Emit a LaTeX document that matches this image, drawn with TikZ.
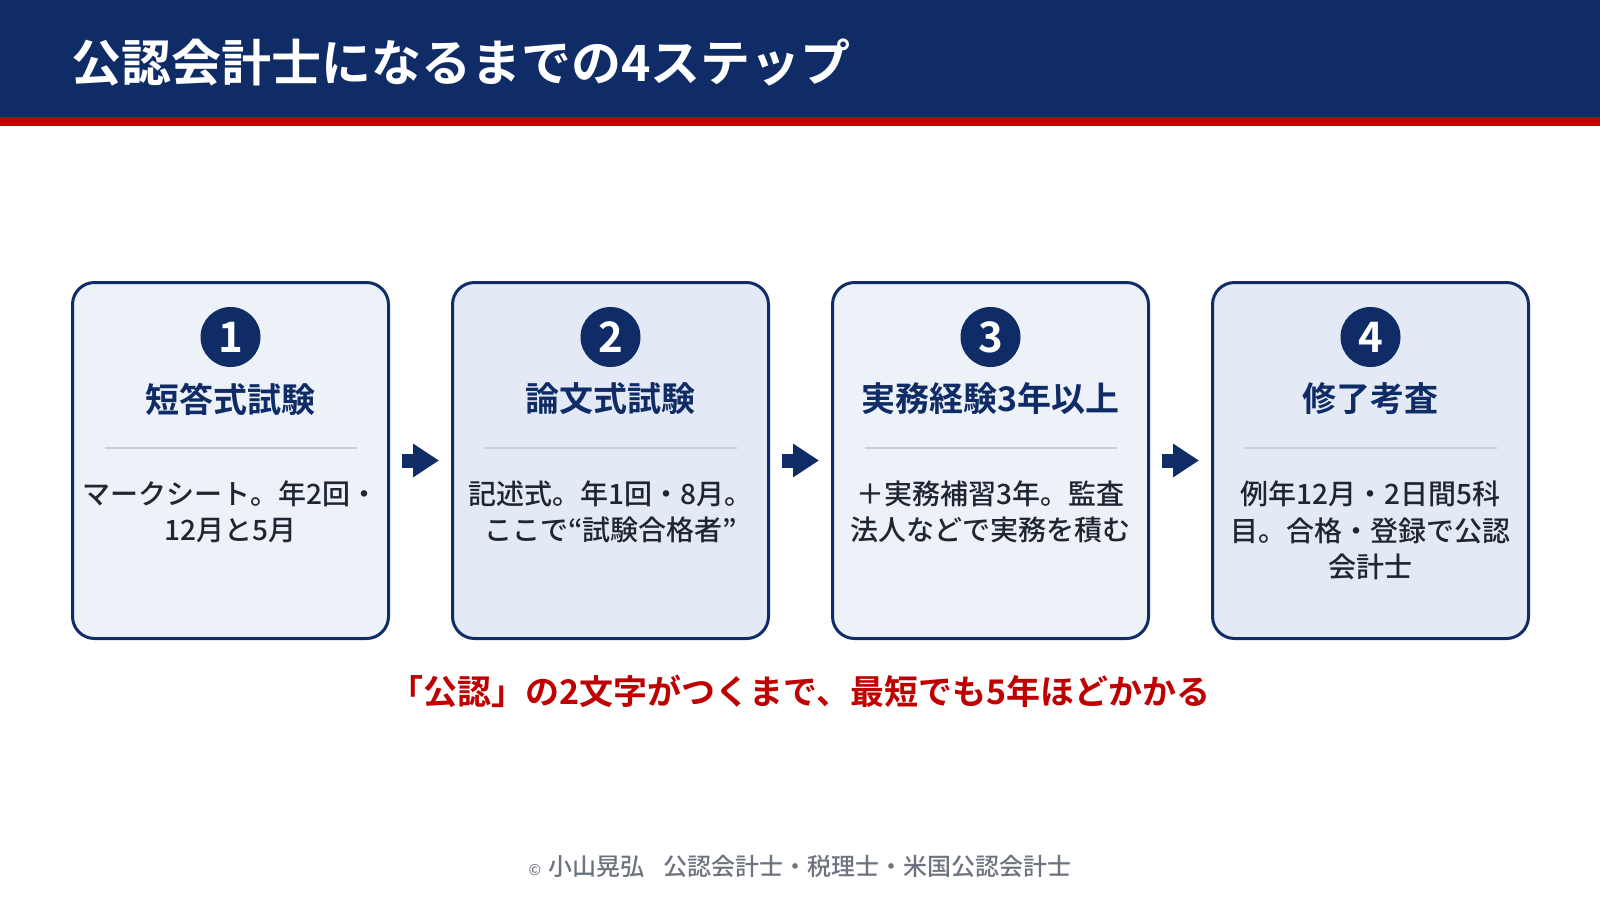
\documentclass[tikz,border=0pt]{standalone}
\usepackage{fontspec}
\setmainfont{Noto Sans CJK JP}[BoldFont={* Bold}]
\newfontfamily\jpmed{Noto Sans CJK JP Medium}
\usetikzlibrary{arrows.meta}
\definecolor{navy}{HTML}{0F2C66}
\definecolor{redline}{HTML}{C00000}
\definecolor{cardA}{HTML}{EDF1F8}
\definecolor{cardB}{HTML}{E3EAF5}
\definecolor{divgray}{HTML}{C9CED6}
\definecolor{bodyc}{HTML}{1F2533}
\definecolor{footc}{HTML}{6E7380}
\tikzset{
  card/.style={draw=navy, line width=3pt, rounded corners=22pt, minimum width=316pt, minimum height=356pt, outer sep=0pt, inner sep=0pt},
  numdisc/.style={circle, fill=navy, minimum size=60pt, inner sep=0pt, text=white, font=\bfseries\fontsize{42}{42}\selectfont},
  headtext/.style={inner sep=0pt, text=navy, font=\bfseries\fontsize{34}{40}\selectfont},
  bodytext/.style={inner sep=0pt, align=center, text=bodyc, font=\jpmed\fontsize{28}{36.6}\selectfont},
  divider/.style={draw=divgray, line width=1.8pt},
  steparrow/.style={draw=navy, line width=14pt, -{Triangle[length=26pt,width=32pt]}, shorten <=13.5pt, shorten >=13.5pt},
  titletext/.style={inner sep=0pt, text=white, font=\bfseries\fontsize{50}{60}\selectfont},
  notetext/.style={inner sep=0pt, text=redline, font=\bfseries\fontsize{34}{40}\selectfont},
  foottext/.style={inner sep=0pt, text=footc, font=\jpmed\fontsize{24}{28}\selectfont}
}
\newcommand\stepcard[7]{%
  \node[card, fill=#3] (b#1) at (#2,460.5) {};
  \node[numdisc] (n#1) at (#2,337) {#4};
  \node[headtext] (h#1) at (#2,399) {#5};
  \draw[divider] (#2-126,448) -- (#2+126,448);
  \node[bodytext] (t#1) at (#2,#7) {#6};
}
\begin{document}
\begin{tikzpicture}[x=1pt,y=-1pt]
\useasboundingbox (0,0) rectangle (1600,900);
\fill[white] (0,0) rectangle (1600,900);
\fill[navy] (0,0) rectangle (1600,118);
\fill[redline] (0,117) rectangle (1600,125.5);
\node[titletext, anchor=west] (title) at (71,63) {公認会計士になるまでの4ステップ};

\stepcard{1}{230.5}{cardA}{1}{短答式試験}{マークシート。年2回・\\12月と5月}{512}
\stepcard{2}{610.5}{cardB}{2}{論文式試験}{記述式。年1回・8月。\\ここで“試験合格者”}{512}
\stepcard{3}{990.5}{cardA}{3}{実務経験3年以上}{＋実務補習3年。監査\\法人などで実務を積む}{512}
\stepcard{4}{1370.5}{cardB}{4}{修了考査}{例年12月・2日間5科\\目。合格・登録で公認\\会計士}{530.5}

\draw[steparrow] (b1.east) -- (b2.west);
\draw[steparrow] (b2.east) -- (b3.west);
\draw[steparrow] (b3.east) -- (b4.west);

\node[notetext] (note) at (800,691) {「公認」の2文字がつくまで、最短でも5年ほどかかる};
\node[foottext] (foot) at (800,866) {{\fontsize{15}{18}\selectfont ©}\hspace{7pt}小山晃弘\hspace{19pt}公認会計士・税理士・米国公認会計士};
\end{tikzpicture}
\end{document}
